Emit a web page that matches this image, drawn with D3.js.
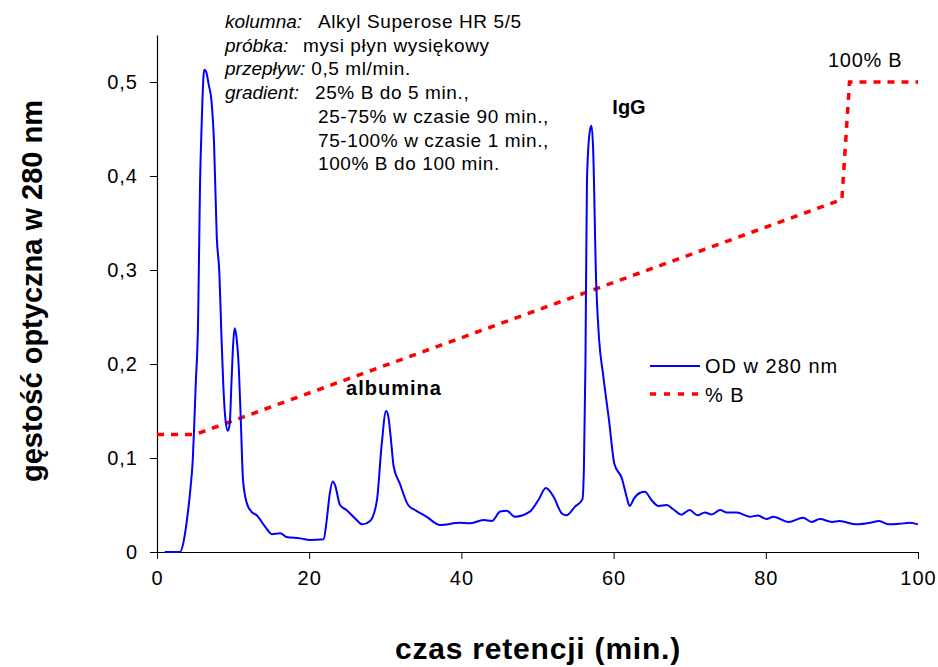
<!DOCTYPE html>
<html>
<head>
<meta charset="utf-8">
<script src="https://cdn.jsdelivr.net/npm/d3@7"></script>
<style>
  body { margin: 0; background: #fff; }
  text { font-family: "Liberation Sans", Arial, sans-serif; fill: #000; }
</style>
</head>
<body>
<div id="chart"></div>
<script>
// retention time (min) and optical density at 280 nm
const time = [1, 3, 3.5, 3.9, 4.4, 4.7, 4.9, 5.1, 5.4, 5.65, 5.87, 6.1, 6.2, 6.45, 6.8, 7.17, 7.5, 7.85, 8.2, 8.45, 8.7, 8.97, 9.3, 9.55, 9.8, 10, 10.2, 10.45, 10.76, 11.03, 11.3, 11.8, 12.4, 13.1, 14.2, 15.1, 16.2, 17, 18.8, 20.1, 21.9, 22.3, 22.7, 23.1, 23.4, 24.05, 24.9, 26, 27, 28, 28.9, 29.5, 30.1, 30.4, 30.7, 31.1, 31.9, 33, 33.9, 35.4, 37.2, 39.8, 41.1, 42.9, 44, 45.1, 45.95, 47, 49, 50.1, 51.1, 52.1, 53.2, 53.8, 54.9, 55.9, 56.1, 56.3, 56.5, 56.9, 57.1, 57.3, 57.7, 58.1, 58.6, 59.4, 60.1, 61.1, 61.7, 62.1, 62.7, 63.5, 64.1, 65, 65.9, 67, 67.8, 68.9, 70, 71, 72, 72.9, 74, 74.9, 76.2, 77.9, 79, 80.1, 81, 83, 84.9, 86, 87.1, 88.7, 89.7, 91.9, 93.7, 94.9, 96.1, 97.6, 98.9, 100];
const od = [0, 0, 0.011, 0.032, 0.068, 0.098, 0.137, 0.18, 0.245, 0.39, 0.455, 0.505, 0.513, 0.511, 0.497, 0.479, 0.434, 0.336, 0.296, 0.234, 0.18, 0.143, 0.129, 0.136, 0.183, 0.22, 0.238, 0.228, 0.194, 0.136, 0.077, 0.052, 0.043, 0.039, 0.027, 0.019, 0.02, 0.016, 0.0145, 0.0128, 0.0135, 0.034, 0.062, 0.075, 0.071, 0.05, 0.0447, 0.036, 0.0294, 0.033, 0.055, 0.112, 0.15, 0.144, 0.123, 0.091, 0.073, 0.05, 0.0447, 0.0376, 0.0287, 0.031, 0.0305, 0.034, 0.033, 0.043, 0.044, 0.0376, 0.043, 0.055, 0.068, 0.059, 0.041, 0.039, 0.048, 0.056, 0.09, 0.2, 0.396, 0.449, 0.4535, 0.431, 0.289, 0.2255, 0.19, 0.14, 0.094, 0.078, 0.059, 0.049, 0.057, 0.063, 0.064, 0.055, 0.049, 0.05, 0.0457, 0.0397, 0.0447, 0.039, 0.042, 0.04, 0.0447, 0.042, 0.042, 0.0376, 0.0387, 0.035, 0.0376, 0.032, 0.0365, 0.032, 0.035, 0.032, 0.033, 0.0294, 0.031, 0.033, 0.0294, 0.03, 0.031, 0.0294];

// gradient, % B
const gradTime = [0, 5, 90, 91, 100];
const gradB = [25, 25, 75, 100, 100];

const xTicks = [0, 20, 40, 60, 80, 100];
const yTicks = [0, 0.1, 0.2, 0.3, 0.4, 0.5];

const notes = [
  ["kolumna:", "Alkyl Superose HR 5/5"],
  ["próbka:", "mysi płyn wysiękowy"],
  ["przepływ:", "0,5 ml/min."],
  ["gradient:", "25% B do 5 min.,"],
  ["", "25-75% w czasie 90 min.,"],
  ["", "75-100% w czasie 1 min.,"],
  ["", "100% B do 100 min."]
];
const noteX = [318, 303, 310, 315, 318, 318, 318];

const width = 938, height = 667;
const margin = { top: 35, right: 20, bottom: 115, left: 157 };

const svg = d3.select("#chart").append("svg")
  .attr("width", width)
  .attr("height", height);

const x = d3.scaleLinear()
  .domain([0, 100])
  .range([margin.left, width - margin.right]);

const y = d3.scaleLinear()
  .domain([0, 0.55])
  .range([height - margin.bottom, margin.top]);

// % B is drawn against the same frame, 100% at OD 0.5
const y2 = d3.scaleLinear()
  .domain([0, 110])
  .range([height - margin.bottom, margin.top]);

const pl = d3.formatLocale({ decimal: ",", thousands: " ", grouping: [3], currency: ["", ""] });

// axes
svg.append("g")
  .attr("transform", `translate(0,${height - margin.bottom})`)
  .call(d3.axisBottom(x).tickValues(xTicks).tickSize(7).tickSizeOuter(0).tickPadding(12));

svg.append("g")
  .attr("transform", `translate(${margin.left},0)`)
  .call(d3.axisLeft(y).tickValues(yTicks).tickSize(7).tickSizeOuter(0).tickPadding(12)
    .tickFormat(d => d === 0 ? "0" : pl.format(".1f")(d)));

svg.selectAll(".domain").attr("stroke", "#000").attr("stroke-width", 1.2);
svg.selectAll(".tick line").attr("stroke", "#000");
svg.selectAll(".tick text")
  .style("font-size", "20px")
  .style("letter-spacing", "1px")
  .attr("fill", "#000");

// gradient line
const gradLine = d3.line()
  .x((d, i) => x(gradTime[i]))
  .y(d => y2(d));

svg.append("path")
  .attr("d", gradLine(gradB))
  .attr("fill", "none")
  .attr("stroke", "#ff0000")
  .attr("stroke-width", 3.5)
  .attr("stroke-dasharray", "7,7");

// OD line
const odLine = d3.line()
  .x((d, i) => x(time[i]))
  .y(d => y(d))
  .curve(d3.curveMonotoneX);

svg.append("path")
  .attr("d", odLine(od))
  .attr("fill", "none")
  .attr("stroke", "#0000ff")
  .attr("stroke-width", 2);

// axis titles
svg.append("text")
  .attr("x", 538)
  .attr("y", 659)
  .attr("text-anchor", "middle")
  .style("font-size", "30px")
  .style("font-weight", "bold")
  .style("letter-spacing", "0.8px")
  .text("czas retencji (min.)");

svg.append("text")
  .attr("transform", "translate(42,291) rotate(-90)")
  .attr("text-anchor", "middle")
  .style("font-size", "29px")
  .style("font-weight", "bold")
  .text("gęstość optyczna w 280 nm");

// notes
const noteG = svg.append("g").style("font-size", "19px");
notes.forEach((n, i) => {
  const t = noteG.append("text").attr("y", 28 + i * 23.7);
  let start = noteX[i];
  if (n[0]) {
    const lab = t.append("tspan").attr("x", 225).style("font-style", "italic").text(n[0]);
    start = Math.max(start, 225 + lab.node().getComputedTextLength() + 6);
  }
  t.append("tspan").attr("x", start).style("letter-spacing", "0.6px").text(n[1]);
});

// peak labels
svg.append("text")
  .attr("x", 394).attr("y", 395)
  .attr("text-anchor", "middle")
  .style("font-size", "20px").style("font-weight", "bold").style("letter-spacing", "1px")
  .text("albumina");

svg.append("text")
  .attr("x", 629).attr("y", 114)
  .attr("text-anchor", "middle")
  .style("font-size", "20px").style("font-weight", "bold")
  .text("IgG");

svg.append("text")
  .attr("x", 828).attr("y", 67)
  .style("font-size", "20px").style("letter-spacing", "0.7px")
  .text("100% B");

// legend
const legend = svg.append("g");
legend.append("line")
  .attr("x1", 650).attr("x2", 700).attr("y1", 366).attr("y2", 366)
  .attr("stroke", "#0000ff").attr("stroke-width", 2);
legend.append("text")
  .attr("x", 705).attr("y", 373)
  .style("font-size", "20px").style("letter-spacing", "1px")
  .text("OD w 280 nm");
legend.append("line")
  .attr("x1", 650).attr("x2", 700).attr("y1", 394).attr("y2", 394)
  .attr("stroke", "#ff0000").attr("stroke-width", 3.5)
  .attr("stroke-dasharray", "6,8");
legend.append("text")
  .attr("x", 705).attr("y", 402)
  .style("font-size", "20px").style("letter-spacing", "1px")
  .text("% B");
</script>
</body>
</html>
